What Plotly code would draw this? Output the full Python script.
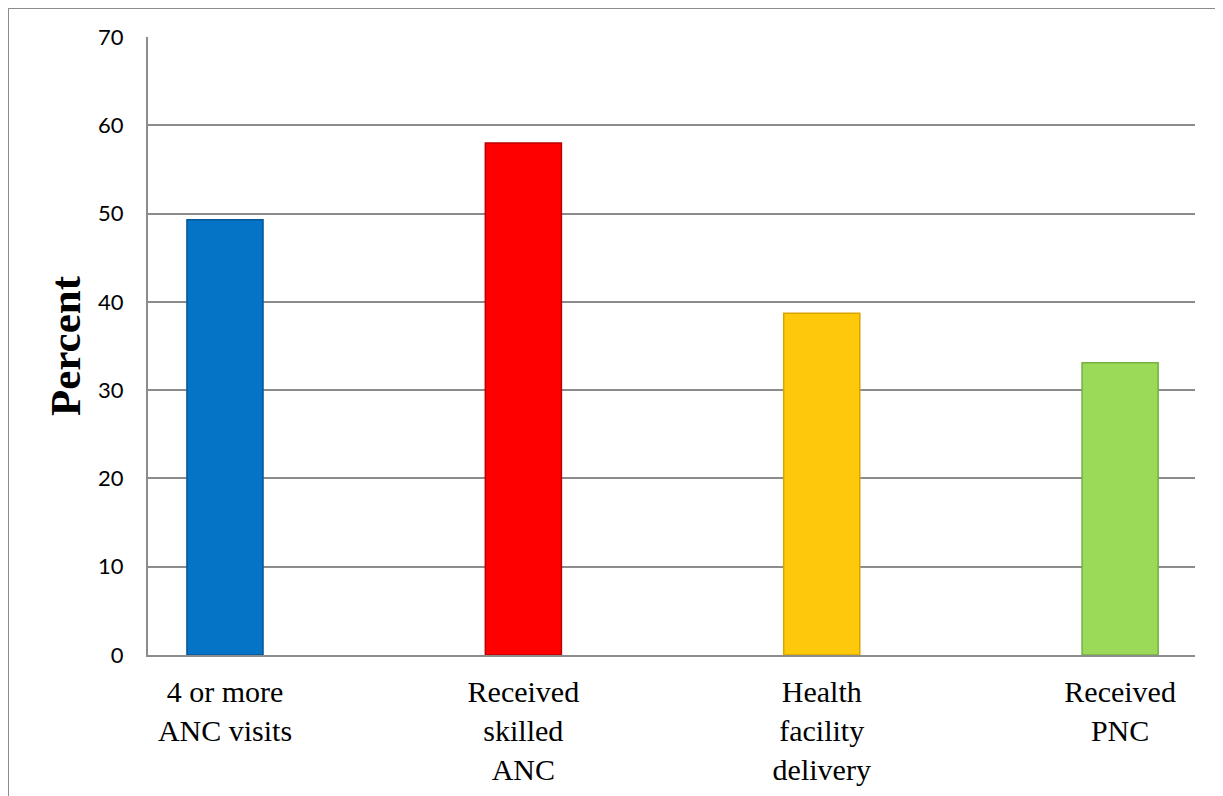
import plotly.graph_objects as go

categories = ["4 or more<br>ANC visits", "Received<br>skilled<br>ANC", "Health<br>facility<br>delivery", "Received<br>PNC"]
values = [49.3, 58.0, 38.7, 33.1]
colors = ["#0573C6", "#FF0000", "#FFC90B", "#9BDA58"]
edge_colors = ["#04589A", "#C00000", "#D9A400", "#76B040"]
y_ticks = [0, 10, 20, 30, 40, 50, 60, 70]

fig = go.Figure()
fig.add_trace(go.Bar(
    x=list(range(len(categories))),
    y=values,
    width=0.255,
    marker=dict(color=colors, line=dict(color=edge_colors, width=1.5)),
    showlegend=False,
))

W, H = 1215, 788
L, T, R, B = 140, 29, 28, 141
pw, ph = W - L - R, H - T - B

fig.update_layout(
    width=W, height=H,
    margin=dict(l=L, r=R, t=T, b=B, autoexpand=False),
    paper_bgcolor="white", plot_bgcolor="white",
    xaxis=dict(
        tickmode="array", tickvals=list(range(len(categories))), ticktext=categories,
        range=[-0.258, 3.251], showgrid=False, zeroline=False,
        showline=True, linecolor="#8c8c8c", linewidth=2,
        tickfont=dict(family="Liberation Serif", size=30, color="black"),
        ticks="", ticklabelstandoff=9,
    ),
    yaxis=dict(
        range=[0, 70], tickvals=y_ticks, showgrid=True, gridcolor="#8c8c8c", gridwidth=1.5,
        zeroline=False, showline=True, linecolor="#8c8c8c", linewidth=2,
        tickfont=dict(family="Lato", size=22, color="black"),
        ticks="", ticklabelstandoff=18,
        title=dict(text="Percent", font=dict(family="Liberation Serif", size=43, color="black", weight="bold"), standoff=4),
    ),
    shapes=[dict(type="rect", xref="paper", yref="paper",
                 x0=-(L - 0) / pw, x1=1.2, y0=-0.5, y1=1 + T / ph,
                 line=dict(color="#8c8c8c", width=2), fillcolor="rgba(0,0,0,0)", layer="below")],
)

fig.write_html("out.html")
